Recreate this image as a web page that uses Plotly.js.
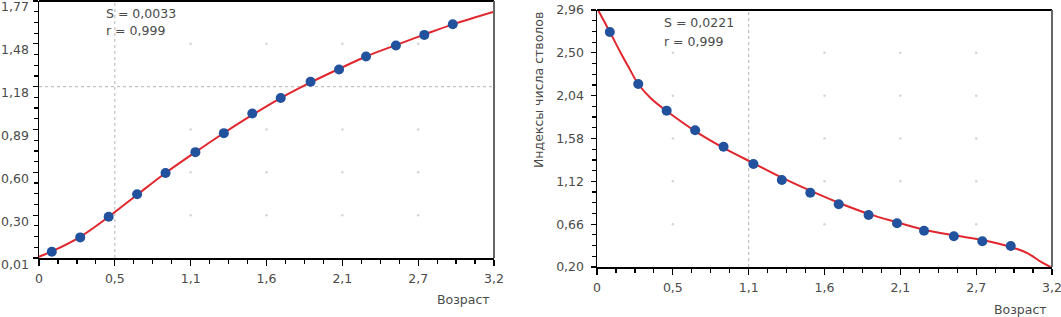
<!DOCTYPE html>
<html>
<head>
<meta charset="utf-8">
<script src="https://cdn.plot.ly/plotly-3.0.1.min.js"></script>
<style>html,body{margin:0;padding:0;background:#fff;}#chart{width:1061px;height:317px;}</style>
</head>
<body>
<div id="chart"></div>
<script>
// ---------- data ----------
const ageX = [0.09, 0.29, 0.49, 0.69, 0.89, 1.10, 1.30, 1.50, 1.70, 1.91, 2.11, 2.30, 2.51, 2.71, 2.91];

const leftPoints = [0.053, 0.151, 0.292, 0.447, 0.592, 0.735, 0.865, 1.000, 1.106, 1.217, 1.301, 1.390, 1.465, 1.538, 1.611];
const leftCurveX = [0, 0.09, 0.29, 0.49, 0.69, 0.89, 1.10, 1.30, 1.50, 1.70, 1.91, 2.11, 2.30, 2.51, 2.71, 2.91, 3.2];
const leftCurveY = [0.019, 0.055, 0.155, 0.292, 0.443, 0.592, 0.735, 0.866, 0.990, 1.105, 1.212, 1.305, 1.390, 1.468, 1.540, 1.610, 1.697];

const rightPoints = [2.724, 2.165, 1.879, 1.668, 1.492, 1.306, 1.134, 0.998, 0.873, 0.758, 0.669, 0.590, 0.530, 0.476, 0.426];
const rightCurveX = [0, 0.05, 0.09, 0.17, 0.23, 0.29, 0.38, 0.49, 0.69, 0.89, 1.10, 1.30, 1.50, 1.70, 1.91, 2.11, 2.30, 2.51, 2.71, 2.91, 3.03, 3.12, 3.19];
const rightCurveY = [2.98, 2.84, 2.725, 2.49, 2.325, 2.165, 2.01, 1.875, 1.66, 1.48, 1.315, 1.16, 1.02, 0.89, 0.77, 0.68, 0.60, 0.54, 0.49, 0.415, 0.347, 0.257, 0.20];

const xTickVals = [0, 0.5333, 1.0667, 1.6, 2.1333, 2.6667, 3.2];
const xTickText = ["0", "0,5", "1,1", "1,6", "2,1", "2,7", "3,2"];
const leftYTickVals = [0.01, 0.3033, 0.5967, 0.89, 1.1833, 1.4767, 1.77];
const leftYTickText = ["0,01", "0,30", "0,60", "0,89", "1,18", "1,48", "1,77"];
const rightYTickVals = [0.20, 0.66, 1.12, 1.58, 2.04, 2.50, 2.96];
const rightYTickText = ["0,20", "0,66", "1,12", "1,58", "2,04", "2,50", "2,96"];

const leftStats = ["S = 0,0033", "r = 0,999"];
const rightStats = ["S = 0,0221", "r = 0,999"];
const xTitle = "Возраст";
const rightYTitle = "Индексы числа стволов";

// ---------- styling ----------
const W = 1061, H = 317;
const FONT = {family: "DejaVu Sans", size: 12.5, color: "#4a4a4a"};
const RED = "#e2262d", BLUE = "#22519e";

// minor tick positions: 4 subdivisions between major ticks
function subdivide(vals, n) {
  const out = [];
  for (let i = 0; i < vals.length - 1; i++) {
    const step = (vals[i + 1] - vals[i]) / n;
    for (let k = 1; k < n; k++) out.push(vals[i] + k * step);
  }
  return out;
}

function gridDots(xs, ys, skipX, skipY, xa, ya) {
  const gx = [], gy = [];
  xs.slice(1, -1).forEach(x => ys.slice(1, -1).forEach(y => {
    if (x !== skipX && y !== skipY) { gx.push(x); gy.push(y); }
  }));
  return {x: gx, y: gy, xaxis: xa, yaxis: ya, mode: "markers", type: "scatter",
          marker: {size: 2.5, color: "#d4d4d4"}, hoverinfo: "skip"};
}

const traces = [
  gridDots(xTickVals, leftYTickVals, 0.5333, 1.1833, "x", "y"),
  gridDots(xTickVals, rightYTickVals, 1.0667, null, "x2", "y2"),
  {x: leftCurveX, y: leftCurveY, xaxis: "x", yaxis: "y", mode: "lines", type: "scatter",
   line: {color: RED, width: 2, shape: "spline", smoothing: 1}},
  {x: ageX, y: leftPoints, xaxis: "x", yaxis: "y", mode: "markers", type: "scatter",
   marker: {color: BLUE, size: 10}},
  {x: rightCurveX, y: rightCurveY, xaxis: "x2", yaxis: "y2", mode: "lines", type: "scatter",
   line: {color: RED, width: 2, shape: "spline", smoothing: 1}},
  {x: ageX, y: rightPoints, xaxis: "x2", yaxis: "y2", mode: "markers", type: "scatter",
   marker: {color: BLUE, size: 10}}
];

function xAxis(domain, anchor) {
  return {domain: domain, anchor: anchor, range: [0, 3.2], tickmode: "array",
    tickvals: xTickVals, ticktext: xTickText, showgrid: false, zeroline: false,
    showline: true, linecolor: "#000", linewidth: 1.5, ticks: "outside", ticklen: 6,
    tickcolor: "#000", tickwidth: 1.2, ticklabelstandoff: 2, tickfont: FONT,
    ticklabeloverflow: "allow",
    minor: {tickmode: "array", tickvals: subdivide(xTickVals, 4), ticks: "outside", ticklen: 4,
            tickcolor: "#000", tickwidth: 1.2, showgrid: false}};
}
function yAxis(domain, anchor, range, vals, text, showLabels) {
  return {domain: domain, anchor: anchor, range: range, tickmode: "array",
    tickvals: vals, ticktext: text, showgrid: false, zeroline: false,
    showline: true, linecolor: "#000", linewidth: 1.5, ticks: "outside", ticklen: 5,
    tickcolor: "#000", tickwidth: 1.2, ticklabelstandoff: 4, tickfont: FONT,
    showticklabels: showLabels, ticklabeloverflow: "allow",
    minor: {tickmode: "array", tickvals: subdivide(vals, 4), ticks: "outside", ticklen: 4,
            tickcolor: "#000", tickwidth: 1.2, showgrid: false}};
}

const px = v => v / W, py = v => (H - v) / H;

// left y tick labels sit a few pixels below their ticks in the reference
const leftYLabels = leftYTickVals.map((v, i) => ({
  text: leftYTickText[i], xref: "paper", yref: "y", x: px(31), y: v, yshift: -6,
  xanchor: "right", yanchor: "middle", showarrow: false, font: FONT
}));

const layout = {
  width: W, height: H, margin: {l: 0, r: 0, t: 0, b: 0},
  paper_bgcolor: "#fff", plot_bgcolor: "#fff", showlegend: false, hovermode: false,
  font: FONT,
  xaxis: xAxis([px(39), px(494)], "y"),
  yaxis: yAxis([py(258), py(1)], "x", [0.01, 1.77], leftYTickVals, leftYTickText, false),
  xaxis2: xAxis([px(597), px(1052)], "y2"),
  yaxis2: yAxis([py(267), py(10)], "x2", [0.20, 2.96], rightYTickVals, rightYTickText, true),
  shapes: [
    {type: "line", xref: "x domain", yref: "y domain", x0: 0, x1: 1, y0: 1, y1: 1, line: {color: "#000", width: 2}},
    {type: "line", xref: "x domain", yref: "y domain", x0: 1, x1: 1, y0: 0, y1: 1, line: {color: "#666", width: 2}},
    {type: "line", xref: "x2 domain", yref: "y2 domain", x0: 0, x1: 1, y0: 1, y1: 1, line: {color: "#000", width: 2}},
    {type: "line", xref: "x2 domain", yref: "y2 domain", x0: 1, x1: 1, y0: 0, y1: 1, line: {color: "#666", width: 2}},
    {type: "line", xref: "x", yref: "y domain", x0: xTickVals[1], x1: xTickVals[1], y0: 0, y1: 1, line: {color: "#b5b5b5", width: 1, dash: "dot"}, layer: "below"},
    {type: "line", xref: "x domain", yref: "y", x0: 0, x1: 1, y0: leftYTickVals[4], y1: leftYTickVals[4], line: {color: "#b5b5b5", width: 1, dash: "dot"}, layer: "below"},
    {type: "line", xref: "x2", yref: "y2 domain", x0: xTickVals[2], x1: xTickVals[2], y0: 0, y1: 1, line: {color: "#b5b5b5", width: 1, dash: "dot"}, layer: "below"}
  ],
  annotations: leftYLabels.concat([
    {text: leftStats[0], xref: "paper", yref: "paper", x: px(104), y: py(14), xanchor: "left", yanchor: "middle", showarrow: false, font: FONT},
    {text: leftStats[1], xref: "paper", yref: "paper", x: px(104), y: py(31), xanchor: "left", yanchor: "middle", showarrow: false, font: FONT},
    {text: rightStats[0], xref: "paper", yref: "paper", x: px(662), y: py(23), xanchor: "left", yanchor: "middle", showarrow: false, font: FONT},
    {text: rightStats[1], xref: "paper", yref: "paper", x: px(662), y: py(42), xanchor: "left", yanchor: "middle", showarrow: false, font: FONT},
    {text: xTitle, xref: "paper", yref: "paper", x: px(492), y: py(299), xanchor: "right", yanchor: "middle", showarrow: false, font: FONT},
    {text: xTitle, xref: "paper", yref: "paper", x: px(1049), y: py(309), xanchor: "right", yanchor: "middle", showarrow: false, font: FONT},
    {text: rightYTitle, xref: "paper", yref: "paper", x: px(538), y: py(90), xanchor: "center", yanchor: "middle", textangle: -90, showarrow: false, font: FONT}
  ])
};

Plotly.newPlot("chart", traces, layout, {staticPlot: true, displayModeBar: false});
</script>
</body>
</html>
